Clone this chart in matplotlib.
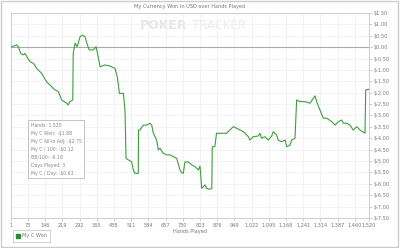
import numpy as np
import matplotlib
matplotlib.use("Agg")
import matplotlib.pyplot as plt
from matplotlib.patches import Rectangle
from matplotlib.lines import Line2D

# cumulative winnings
hands = [1, 25, 32, 42, 53, 60, 68, 82, 96, 110, 131, 152, 166, 188, 202, 216, 237, 244, 251, 263,
         265, 273, 282, 294, 305, 315, 325, 333, 350, 362, 371, 379, 400, 421, 442, 452, 461, 478, 485, 489,
         499, 513, 520, 527, 541, 542, 548, 562, 577, 591, 598, 605, 619, 626, 633, 647, 662, 676, 690, 704,
         718, 725, 732, 739, 753, 768, 782, 796, 803, 810, 824, 831, 842, 853, 855, 866, 873, 888, 916, 930,
         944, 958, 987, 1008, 1015, 1029, 1050, 1057, 1064, 1078, 1093, 1107, 1114, 1128, 1135, 1149, 1164, 1171, 1185, 1192,
         1206, 1213, 1227, 1248, 1270, 1284, 1291, 1298, 1312, 1326, 1341, 1362, 1376, 1390, 1404, 1411, 1425, 1439, 1453, 1468,
         1482, 1503, 1506, 1517, 1520]
won = [0.00, 0.10, 0.02, -0.27, -0.34, -0.27, -0.42, -0.64, -0.71, -0.93, -1.15, -1.52, -1.66, -1.88, -1.95, -2.32, -2.46, -2.54, -2.39, -2.32,
       -0.27, 0.17, 0.02, 0.46, 0.53, 0.46, 0.10, -0.12, -0.12, 0.02, -0.42, -0.86, -0.78, -0.83, -0.93, -1.30, -2.03, -2.03, -2.83, -4.88,
       -4.95, -5.03, -5.39, -5.54, -5.54, -3.64, -3.64, -3.42, -3.42, -3.34, -3.42, -3.78, -4.08, -4.51, -4.44, -4.66, -4.73, -4.73, -4.81, -4.88,
       -5.39, -5.51, -5.54, -5.04, -5.04, -5.17, -5.25, -5.39, -5.22, -6.20, -6.05, -6.20, -6.24, -6.20, -4.37, -4.37, -3.78, -3.78, -3.78, -3.64,
       -3.49, -3.56, -3.71, -3.93, -4.08, -3.93, -3.90, -3.78, -4.00, -3.93, -4.08, -3.90, -3.71, -3.86, -4.08, -4.15, -4.08, -4.37, -4.30, -4.08,
       -4.00, -2.32, -2.39, -2.39, -2.46, -2.24, -2.14, -2.39, -2.76, -3.12, -3.12, -3.27, -3.42, -3.27, -3.20, -3.34, -3.34, -3.42, -3.64, -3.49,
       -3.64, -3.78, -1.88, -1.85, -1.85]

x_ticks = [1, 73, 146, 219, 292, 365, 438, 511, 584, 657, 730, 803, 876, 949, 1022, 1095, 1168, 1241, 1314, 1387, 1460, 1520]
y_ticks = [1.5, 1.0, 0.5, 0.0, -0.5, -1.0, -1.5, -2.0, -2.5, -3.0, -3.5, -4.0, -4.5, -5.0, -5.5, -6.0, -6.5, -7.0, -7.5]

info_lines = ["Hands: 1,520", "My C Won: -$1.88", "My C All-In Adj: -$2.75", "My C / 100: -$0.12",
              "BB/100: -6.18", "Days Played: 3", "My C / Day: -$0.63"]

txt = '#777777'
fig = plt.figure(figsize=(4, 2.48), dpi=100)
ax = fig.add_axes([0.0275, 0.121, 0.895, 0.8266])

ax.plot(hands, won, color='#3d9e3d', lw=0.8, zorder=3)
ax.axhline(0, color='#aaaaaa', lw=0.8, zorder=2)

ax.set_xlim(1, 1520)
ax.set_ylim(-7.5, 1.5)
ax.set_xticks(x_ticks)
ax.set_xticklabels([f'{t:,}' for t in x_ticks])
ax.set_yticks(y_ticks)
ax.set_yticklabels([f'${t:.2f}' for t in y_ticks])
ax.yaxis.tick_right()
ax.tick_params(axis='both', labelsize=3.6, colors='#bbbbbb', labelcolor=txt, length=2, width=0.5, pad=1.5)
ax.grid(True, color='#eeeeee', lw=0.5, zorder=0)
for s in ax.spines.values():
    s.set_color('#c8c8c8')
    s.set_linewidth(0.6)

ax.set_xlabel('Hands Played', fontsize=3.6, color=txt, labelpad=1)
fig.text(0.475, 0.972, 'My Currency Won in USD over Hands Played', fontsize=3.6, color=txt,
         ha='center', va='center')

# watermark
ax.text(0.36, 0.94, 'POKER', transform=ax.transAxes, fontsize=9, fontweight='bold',
        color='#e6e6e6', ha='left', va='center', zorder=1)
ax.text(0.505, 0.94, 'TRACKER', transform=ax.transAxes, fontsize=8.5,
        color='#ececec', ha='left', va='center', zorder=1)

# info box
ax.text(0.055, 0.465, '\n'.join(info_lines), transform=ax.transAxes, fontsize=3.3,
        color='#888888', ha='left', va='top', linespacing=1.75, zorder=4,
        bbox=dict(boxstyle='square,pad=0.6', fc='white', ec='#bbbbbb', lw=0.6))

handle = Line2D([], [], marker='s', color='none', markerfacecolor='#2e8b2e',
                markeredgecolor='#2e8b2e', markersize=2.5)
leg = fig.legend([handle], ['My C Won'], loc='lower left', bbox_to_anchor=(0.025, 0.015),
                 fontsize=3.6, frameon=True, fancybox=False, handlelength=0.8,
                 handletextpad=0.3, borderpad=0.7)
leg.get_frame().set_edgecolor('#bbbbbb')
leg.get_frame().set_linewidth(0.6)
for t in leg.get_texts():
    t.set_color(txt)

fig.patches.append(Rectangle((0.002, 0.006), 0.994, 0.99, transform=fig.transFigure,
                             fill=False, ec='#cccccc', lw=1))

fig.savefig('out.png', dpi=100)
